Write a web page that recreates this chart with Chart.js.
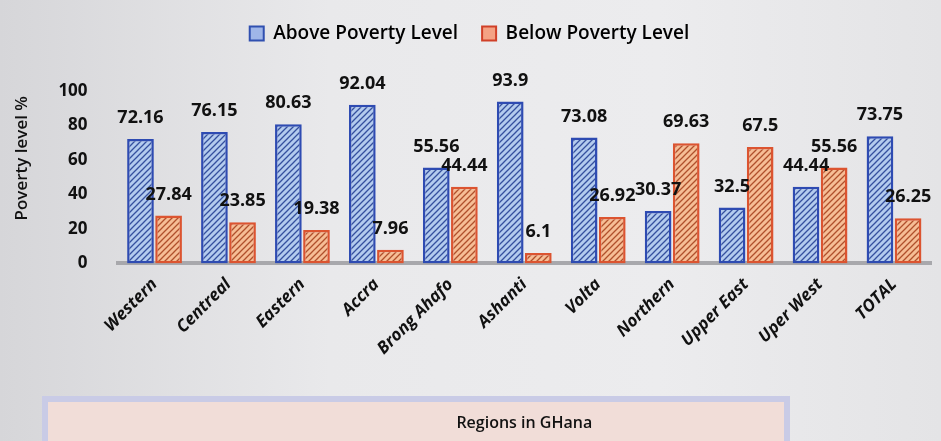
<!DOCTYPE html>
<html>
<head>
<meta charset="utf-8">
<script src="https://cdn.jsdelivr.net/npm/chart.js@4/dist/chart.umd.min.js"></script>
<style>
  html, body { margin: 0; padding: 0; }
  body { width: 941px; height: 441px; background: linear-gradient(to right, #d6d6d9, #e9e9eb 35%, #ececee 70%, #e4e4e6); }
  #wrap { position: relative; width: 941px; height: 441px; }
</style>
</head>
<body>
<div id="wrap"><canvas id="canvas-1"></canvas></div>
<script>
/* global Chart */

// regions and values
const regions = ['Western', 'Centreal', 'Eastern', 'Accra', 'Brong Ahafo', 'Ashanti', 'Volta', 'Northern', 'Upper East', 'Uper West', 'TOTAL'];
const above = [72.16, 76.15, 80.63, 92.04, 55.56, 93.9, 73.08, 30.37, 32.5, 44.44, 73.75];
const below = [27.84, 23.85, 19.38, 7.96, 44.44, 6.1, 26.92, 69.63, 67.5, 55.56, 26.25];
const yTicks = [0, 20, 40, 60, 80, 100];

// diagonal hatch fill
const hatch = (bg, line) => {
  const c = document.createElement('canvas');
  c.width = 6; c.height = 6;
  const x = c.getContext('2d');
  x.fillStyle = bg;
  x.fillRect(0, 0, 6, 6);
  x.strokeStyle = line;
  x.lineWidth = 1.3;
  x.beginPath();
  x.moveTo(0, 6); x.lineTo(6, 0);
  x.moveTo(-3, 3); x.lineTo(3, -3);
  x.moveTo(3, 9); x.lineTo(9, 3);
  x.stroke();
  return x.createPattern(c, 'repeat');
};

// value labels above bars
const valueLabels = {
  id: 'valueLabels',
  afterDatasetsDraw(chart) {
    const ctx = chart.ctx;
    ctx.save();
    ctx.font = 'bold 18px "Open Sans", sans-serif';
    ctx.fillStyle = '#111';
    ctx.textAlign = 'center';
    ctx.textBaseline = 'bottom';
    chart.data.datasets.forEach((ds, i) => {
      chart.getDatasetMeta(i).data.forEach((bar, j) => {
        ctx.fillText(String(ds.data[j]), bar.x, bar.y - 12);
      });
    });
    ctx.restore();
  }
};

// pink box behind the axis title
const titleBox = {
  id: 'titleBox',
  beforeDraw(chart) {
    const ctx = chart.ctx;
    ctx.save();
    ctx.fillStyle = '#f1ddd8';
    ctx.fillRect(45, 399, 742, 50);
    ctx.strokeStyle = '#c9cbe6';
    ctx.lineWidth = 6;
    ctx.strokeRect(45, 399, 742, 50);
    ctx.restore();
  }
};

// eslint-disable-next-line no-unused-vars
const barChart = new Chart(document.getElementById('canvas-1'), {
  type: 'bar',
  data: {
    labels: regions,
    datasets: [{
      label: 'Above Poverty Level',
      data: above,
      backgroundColor: hatch('#b3cbee', '#35509e'),
      borderColor: '#2e4bb2',
      borderWidth: 2.5,
      borderSkipped: false
    }, {
      label: 'Below Poverty Level',
      data: below,
      backgroundColor: hatch('#f6bd95', '#b0502c'),
      borderColor: '#dc5430',
      borderWidth: 2.5,
      borderSkipped: false
    }]
  },
  options: {
    responsive: true,
    maintainAspectRatio: false,
    animation: false,
    categoryPercentage: 0.76,
    barPercentage: 0.95,
    layout: { padding: { left: 8, right: 10, top: 0, bottom: 4 } },
    plugins: {
      legend: {
        position: 'top',
        labels: {
          font: { family: '"Open Sans", sans-serif', size: 19, weight: '600' },
          color: '#111',
          boxWidth: 14,
          boxHeight: 14,
          padding: 24,
          generateLabels: () => [
            { text: 'Above Poverty Level', fillStyle: '#9fb6e8', strokeStyle: '#3050b0', lineWidth: 2, datasetIndex: 0 },
            { text: 'Below Poverty Level', fillStyle: '#f4a284', strokeStyle: '#d04028', lineWidth: 2, datasetIndex: 1 }
          ]
        }
      },
      tooltip: { enabled: false }
    },
    scales: {
      x: {
        grid: { display: false },
        border: { color: '#a8a8ac', width: 4 },
        ticks: {
          color: '#111',
          font: { family: '"Open Sans", sans-serif', size: 17, weight: 'bold', style: 'italic' },
          maxRotation: 45,
          minRotation: 45
        },
        title: {
          display: true,
          text: 'Regions in GHana',
          color: '#111',
          font: { family: '"Open Sans", sans-serif', size: 16, weight: '600' },
          padding: { top: 52, bottom: 4 }
        }
      },
      y: {
        min: 0,
        max: 122,
        afterBuildTicks: (axis) => { axis.ticks = yTicks.map(v => ({ value: v })); },
        grid: { display: false },
        border: { display: false },
        ticks: {
          color: '#111',
          padding: 22,
          font: { family: '"Open Sans", sans-serif', size: 17, weight: 'bold' }
        },
        title: {
          display: true,
          text: 'Poverty level %',
          color: '#111',
          font: { family: '"Open Sans", sans-serif', size: 17, weight: '600' }
        }
      }
    }
  },
  plugins: [titleBox, valueLabels]
});
</script>
</body>
</html>
